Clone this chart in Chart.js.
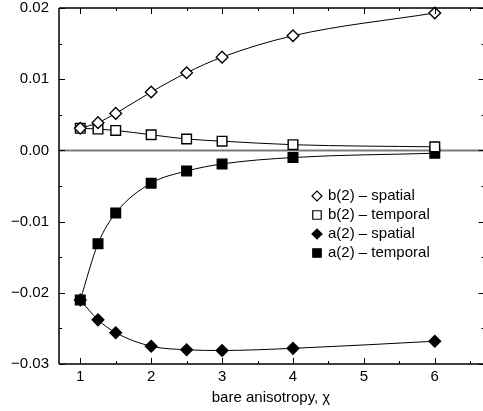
<!DOCTYPE html>
<html>
<head>
<meta charset="utf-8">
<script src="https://cdn.jsdelivr.net/npm/chart.js@4.4.0/dist/chart.umd.min.js"></script>
<style>
html,body{margin:0;padding:0;background:#fff;overflow:hidden;}
#c{display:block;}
</style>
</head>
<body>
<canvas id="c" width="483" height="411"></canvas>
<script>
// ---- data ----
const chi = [1, 1.25, 1.5, 2, 2.5, 3, 4, 6];
const bSpatial  = [0.0031, 0.0039, 0.0052, 0.0082, 0.0109, 0.0131, 0.0161, 0.0193];
const bTemporal = [0.0031, 0.0030, 0.0028, 0.0022, 0.0016, 0.0013, 0.0008, 0.0005];
const aSpatial  = [-0.0210, -0.0238, -0.0256, -0.0275, -0.0280, -0.0281, -0.0278, -0.0268];
const aTemporal = [-0.0210, -0.0131, -0.0088, -0.0046, -0.0029, -0.0019, -0.0010, -0.0004];
const seriesLabels = ['b(2) \u2013 spatial', 'b(2) \u2013 temporal', 'a(2) \u2013 spatial', 'a(2) \u2013 temporal'];

const xTickValues = [1, 2, 3, 4, 5, 6];
const xTickLabels = ['1', '2', '3', '4', '5', '6'];
const xMinorTicks = [1.5, 2.5, 3.5, 4.5, 5.5, 6.5];
const yTickValues = [-0.03, -0.02, -0.01, 0, 0.01, 0.02];
const yTickLabels = ['\u22120.03', '\u22120.02', '\u22120.01', '0.00', '0.01', '0.02'];
const yMinorTicks = [-0.025, -0.015, -0.005, 0.005, 0.015];
const xTitle = 'bare anisotropy, \u03C7';

const FONT = '"Liberation Sans", Arial, Helvetica, sans-serif';

function pts(ys){ return chi.map((x,i)=>({x:x, y:ys[i]})); }

const styles = [
  {pointStyle:'rectRot', radius:5.8, fill:'#ffffff', legendRadius:5},
  {pointStyle:'rect', radius:6.8, fill:'#ffffff', legendRadius:6},
  {pointStyle:'rectRot', radius:5.8, fill:'#000000', legendRadius:5},
  {pointStyle:'rect', radius:6.8, fill:'#000000', legendRadius:6},
];
const seriesData = [bSpatial, bTemporal, aSpatial, aTemporal];

const datasets = seriesData.map((d,i)=>({
  label: seriesLabels[i],
  data: pts(d),
  borderColor: '#000',
  borderWidth: 1,
  cubicInterpolationMode: 'monotone',
  pointStyle: styles[i].pointStyle,
  pointRadius: styles[i].radius,
  pointHoverRadius: styles[i].radius,
  pointBackgroundColor: styles[i].fill,
  pointBorderColor: '#000',
  pointBorderWidth: 1.4,
  fill: false,
  clip: false
}));

const framePlugin = {
  id: 'frame',
  beforeDatasetsDraw(chart){
    const {ctx, chartArea:a, scales:{x, y}} = chart;
    ctx.save();
    ctx.strokeStyle = '#7a7a7a';
    ctx.lineWidth = 2;
    const y0 = y.getPixelForValue(0);
    ctx.beginPath(); ctx.moveTo(a.left, y0); ctx.lineTo(a.right, y0); ctx.stroke();
    ctx.restore();
  },
  afterDraw(chart){
    const {ctx, chartArea:a, scales:{x, y}} = chart;
    const right = a.right + 1.5;
    ctx.save();
    ctx.strokeStyle = '#000';
    ctx.lineWidth = 1.5;
    ctx.beginPath();
    ctx.moveTo(a.left, a.top); ctx.lineTo(right, a.top);
    ctx.moveTo(a.left, a.top); ctx.lineTo(a.left, a.bottom);
    ctx.moveTo(a.left, a.bottom); ctx.lineTo(right, a.bottom);
    ctx.moveTo(right, a.top); ctx.lineTo(right, a.bottom);
    ctx.stroke();
    ctx.lineWidth = 1;
    ctx.beginPath();
    const tick = (vals, len) => {
      vals.forEach(v=>{
        const px = Math.round(x.getPixelForValue(v)) + 0.5;
        ctx.moveTo(px, a.bottom); ctx.lineTo(px, a.bottom - len);
        ctx.moveTo(px, a.top); ctx.lineTo(px, a.top + len);
      });
    };
    const tickY = (vals, len) => {
      vals.forEach(v=>{
        const py = Math.round(y.getPixelForValue(v)) + 0.5;
        ctx.moveTo(a.left, py); ctx.lineTo(a.left + len, py);
        ctx.moveTo(right, py); ctx.lineTo(right - len, py);
      });
    };
    tick(xTickValues, 6); tick(xMinorTicks, 3);
    tickY(yTickValues, 6); tickY(yMinorTicks, 3);
    ctx.stroke();

    // legend
    const lx = 317, ly0 = 196, dy = 19;
    ctx.font = '15px ' + FONT;
    ctx.fillStyle = '#000';
    ctx.textBaseline = 'middle';
    ctx.textAlign = 'left';
    seriesLabels.forEach((lab,i)=>{
      const yy = ly0 + i*dy;
      ctx.save();
      ctx.fillStyle = styles[i].fill;
      ctx.strokeStyle = '#000';
      ctx.lineWidth = 1.2;
      Chart.helpers.drawPoint(ctx, {pointStyle: styles[i].pointStyle, radius: styles[i].legendRadius, borderWidth: 1.2, rotation: 0}, lx, yy);
      ctx.restore();
      ctx.fillStyle = '#000';
      ctx.fillText(lab, lx + 11, yy);
    });
    ctx.restore();
  }
};

new Chart(document.getElementById('c'), {
  type: 'line',
  data: { datasets },
  options: {
    responsive: false,
    animation: false,
    events: [],
    layout: { autoPadding: false, padding: { top: 8, right: 0, left: 0, bottom: 0 } },
    plugins: { legend: { display: false }, tooltip: { enabled: false } },
    scales: {
      x: {
        type: 'linear',
        min: 0.7, max: 6.68,
        grid: { display: false, drawTicks: false },
        border: { display: false },
        afterBuildTicks: s => { s.ticks = xTickValues.map(v=>({value:v})); },
        afterFit: s => { s.height = 47; s.paddingLeft = 0; s.paddingRight = 0; s.paddingTop = 0; s.paddingBottom = 0; },
        ticks: {
          font: { family: FONT, size: 15 }, color: '#000', padding: 4, maxRotation: 0,
          callback: (v) => { const i = xTickValues.indexOf(v); return i >= 0 ? xTickLabels[i] : ''; }
        },
        title: { display: true, text: xTitle, font: { family: FONT, size: 15 }, color: '#000', padding: { top: 0, bottom: 4 } }
      },
      y: {
        type: 'linear',
        min: -0.03, max: 0.02,
        grid: { display: false, drawTicks: false },
        border: { display: false },
        afterBuildTicks: s => { s.ticks = yTickValues.map(v=>({value:v})); },
        afterFit: s => { s.width = 59; s.paddingTop = 0; s.paddingBottom = 0; s.paddingLeft = 0; s.paddingRight = 0; },
        ticks: {
          font: { family: FONT, size: 15 }, color: '#000', padding: 10,
          callback: (v) => { const i = yTickValues.findIndex(t => Math.abs(t - v) < 1e-9); return i >= 0 ? yTickLabels[i] : ''; }
        }
      }
    }
  },
  plugins: [framePlugin]
});
</script>
</body>
</html>
